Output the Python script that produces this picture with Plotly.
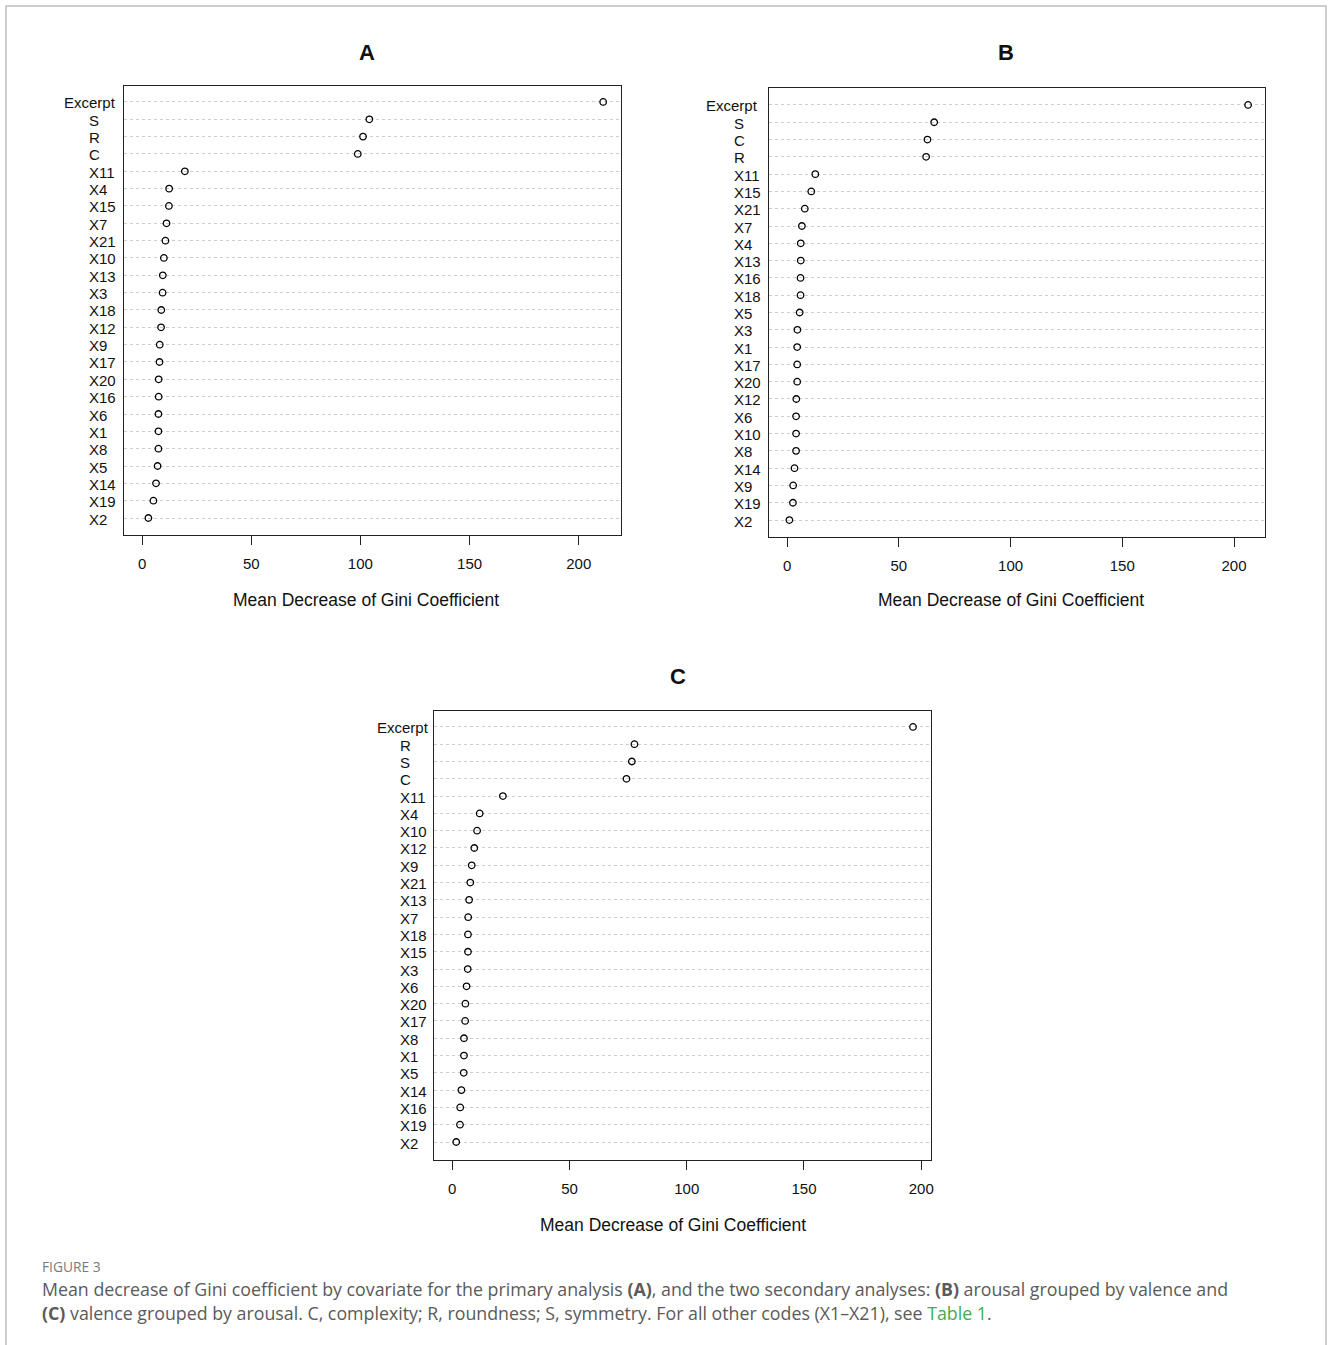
import plotly.graph_objects as go

W, H = 1330, 1345

labels_A = ["Excerpt", "S", "R", "C", "X11", "X4", "X15", "X7", "X21", "X10", "X13", "X3",
            "X18", "X12", "X9", "X17", "X20", "X16", "X6", "X1", "X8", "X5", "X14", "X19", "X2"]
values_A = [211.2, 104.1, 101.2, 98.8, 19.6, 12.4, 12.3, 11.2, 10.7, 10.0, 9.5, 9.4,
            8.8, 8.7, 8.1, 8.0, 7.6, 7.6, 7.5, 7.5, 7.5, 7.1, 6.4, 5.2, 2.9]

labels_B = ["Excerpt", "S", "C", "R", "X11", "X15", "X21", "X7", "X4", "X13", "X16", "X18",
            "X5", "X3", "X1", "X17", "X20", "X12", "X6", "X10", "X8", "X14", "X9", "X19", "X2"]
values_B = [206.3, 65.8, 62.8, 62.2, 12.6, 10.8, 7.9, 6.6, 6.1, 6.1, 6.0, 6.0,
            5.6, 4.6, 4.5, 4.5, 4.5, 4.1, 4.0, 4.0, 4.0, 3.3, 2.7, 2.6, 1.0]

labels_C = ["Excerpt", "R", "S", "C", "X11", "X4", "X10", "X12", "X9", "X21", "X13", "X7",
            "X18", "X15", "X3", "X6", "X20", "X17", "X8", "X1", "X5", "X14", "X16", "X19", "X2"]
values_C = [196.5, 77.7, 76.6, 74.3, 21.6, 11.7, 10.6, 9.4, 8.3, 7.7, 7.2, 6.8,
            6.7, 6.7, 6.6, 6.1, 5.6, 5.5, 5.0, 5.0, 4.9, 3.9, 3.4, 3.3, 1.7]

x_ticks = [0, 50, 100, 150, 200]
panel_titles = ["A", "B", "C"]
x_title = "Mean Decrease of Gini Coefficient"

FONT = "Liberation Sans, Arial, sans-serif"

# panel layout in pixels: box (left, top, right, bottom), x range, y range, label offsets
panels = [
    dict(labels=labels_A, values=values_A, box=(124, 86, 622.7, 535), xr=[-8.4, 219.5],
         yr=[0.02, 25.92], title_xy=(368, 53), xt_xy=(367, 600), off_ex=-62, off=-37),
    dict(labels=labels_B, values=values_B, box=(771, 88, 1267.7, 537), xr=[-8.0, 213.8],
         yr=[0.02, 25.98], title_xy=(1008, 53), xt_xy=(1013, 600), off_ex=-65, off=-37),
    dict(labels=labels_C, values=values_C, box=(434.7, 711, 932.7, 1160), xr=[-7.9, 204.0],
         yr=[-0.04, 25.92], title_xy=(680, 676), xt_xy=(675, 1225), off_ex=-59, off=-36),
]

fig = go.Figure()
annotations = []
layout = dict(
    width=W, height=H, margin=dict(l=0, r=0, t=0, b=0),
    paper_bgcolor="white", plot_bgcolor="white", showlegend=False,
    font=dict(family=FONT, color="black"),
)

for i, p in enumerate(panels):
    n = len(p["labels"])
    ypos = [n - k for k in range(n)]
    sx = "" if i == 0 else str(i + 1)
    xa, ya = "x" + sx, "y" + sx
    fig.add_trace(go.Scatter(
        x=p["values"], y=ypos, mode="markers", xaxis=xa, yaxis=ya,
        marker=dict(symbol="circle-open", size=6.5, color="black", line=dict(width=1.3, color="black")),
        hoverinfo="skip",
    ))
    l, t, r, b = p["box"]
    layout["xaxis" + sx] = dict(
        domain=[l / W, r / W], range=p["xr"], anchor=ya,
        tickvals=x_ticks, ticktext=[str(v) for v in x_ticks], ticks="outside", ticklen=9,
        tickwidth=1.2, tickcolor="#222", tickfont=dict(size=15, family=FONT, color="#111"),
        ticklabelstandoff=6,
        showline=True, linecolor="#222", linewidth=1.4, mirror=True,
        showgrid=False, zeroline=False, fixedrange=True,
    )
    layout["yaxis" + sx] = dict(
        domain=[1 - b / H, 1 - t / H], range=p["yr"], anchor=xa,
        tickvals=ypos, showticklabels=False, ticks="",
        showgrid=True, gridcolor="#cdcdcd", gridwidth=1, griddash="dot",
        showline=True, linecolor="#222", linewidth=1.4, mirror=True,
        zeroline=False, fixedrange=True,
    )
    for k, (lab, yv) in enumerate(zip(p["labels"], ypos)):
        annotations.append(dict(
            text=lab, x=0, xref=xa + " domain", y=yv, yref=ya,
            xanchor="left", yanchor="middle", showarrow=False,
            xshift=p["off_ex"] if k == 0 else p["off"], yshift=-1,
            font=dict(size=15, family=FONT, color="#111"),
        ))
    tx, ty = p["title_xy"]
    annotations.append(dict(
        text="<b>" + panel_titles[i] + "</b>", x=tx / W, y=1 - ty / H, xref="paper", yref="paper",
        xanchor="center", yanchor="middle", showarrow=False, font=dict(size=22, family=FONT, color="#111"),
    ))
    ax_, ay_ = p["xt_xy"]
    annotations.append(dict(
        text=x_title, x=ax_ / W, y=1 - ay_ / H, xref="paper", yref="paper",
        xanchor="center", yanchor="middle", showarrow=False, font=dict(size=17.5, family=FONT, color="#111"),
    ))

CAP = "Open Sans, Lato, sans-serif"
caption = [
    ("FIGURE 3", 1266, 13.8, "#7a7a7a"),
    ("Mean decrease of Gini coefficient by covariate for the primary analysis <b>(A)</b>, and the two "
     "secondary analyses: <b>(B)</b> arousal grouped by valence and", 1289, 17.8, "#5a5a5a"),
    ("<b>(C)</b> valence grouped by arousal. C, complexity; R, roundness; S, symmetry. For all other codes "
     "(X1\u2013X21), see <span style=\"color:#3fae49\">Table 1</span>.", 1313, 17.8, "#5a5a5a"),
]
for txt, yy, fs, col in caption:
    annotations.append(dict(
        text=txt, x=40 / W, y=1 - yy / H, xref="paper", yref="paper", xanchor="left", yanchor="middle",
        showarrow=False, font=dict(size=fs, family=CAP, color=col),
    ))

layout["annotations"] = annotations
layout["shapes"] = [dict(
    type="path", xref="paper", yref="paper",
    path=f"M {6/W} 0 L {6/W} {1-6/H} L {1329/W} {1-6/H} L {1329/W} 0",
    line=dict(color="#bdbdbd", width=1.5),
)]
fig.update_layout(**layout)

fig.write_html("out.html", config={"displayModeBar": False},
               post_script="document.body.style.margin='0';document.body.style.overflow='hidden';")
